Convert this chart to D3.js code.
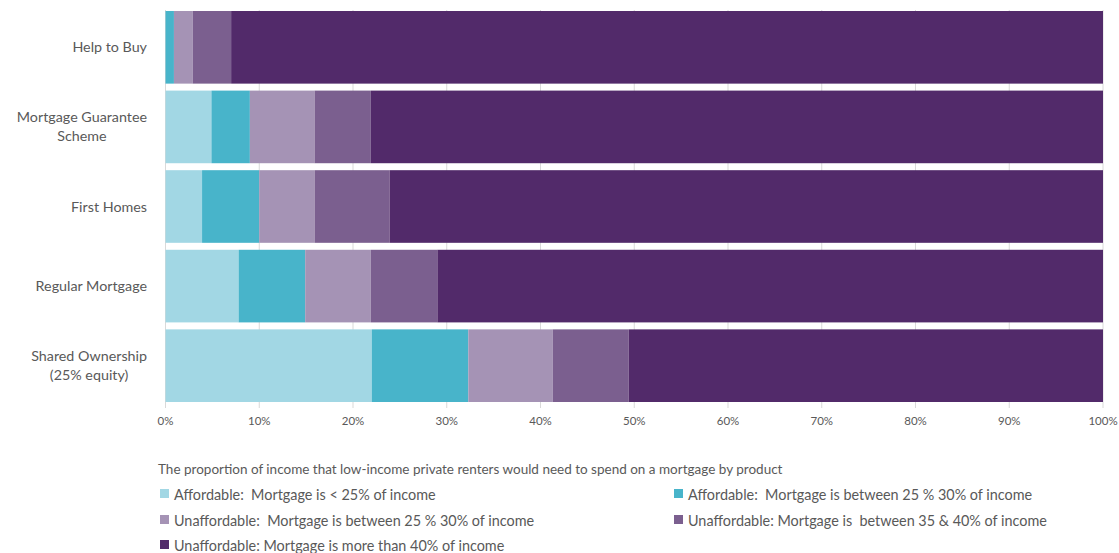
<!DOCTYPE html>
<html><head><meta charset="utf-8">
<script src="https://cdn.jsdelivr.net/npm/d3@7"></script>
<style>body{margin:0;background:#fff}svg{display:block}text{white-space:pre}</style>
</head><body><svg id="c" width="1119" height="553"></svg>
<script>
const categories = [["Help to Buy"],["Mortgage Guarantee","Scheme"],["First Homes"],["Regular Mortgage"],["Shared Ownership","(25% equity)"]];
const seriesNames = [
  "Affordable:  Mortgage is < 25% of income",
  "Affordable:  Mortgage is between 25 % 30% of income",
  "Unaffordable:  Mortgage is between 25 % 30% of income",
  "Unaffordable: Mortgage is  between 35 & 40% of income",
  "Unaffordable: Mortgage is more than 40% of income"
];
const affordableLow   = [0, 4.9, 3.9, 7.8, 22.0];
const affordableHigh  = [0.9, 4.1, 6.1, 7.1, 10.3];
const unaffordable25  = [2.0, 6.9, 5.9, 7.0, 9.0];
const unaffordable35  = [4.1, 6.0, 8.0, 7.1, 8.1];
const unaffordable40  = [93.0, 78.1, 76.1, 71.0, 50.6];
const tickValues = [0,10,20,30,40,50,60,70,80,90,100];
const title = "The proportion of income that low-income private renters would need to spend on a mortgage by product";
const colors = ["#A2D7E4","#48B4CA","#A593B5","#7B5F8F","#522A6A"];

const svg = d3.select("#c");
const font = "Lato, 'Open Sans', sans-serif";
const grey = "#595959";
const x = d3.scaleLinear().domain([0,100]).range([165.5,1103]);
const y = d3.scaleBand().domain(d3.range(categories.length)).range([11,402]).paddingInner(0.0875).paddingOuter(0);

// gridlines
svg.append("g").selectAll("line").data(tickValues).join("line")
  .attr("x1",d=>x(d)).attr("x2",d=>x(d)).attr("y1",10).attr("y2",408)
  .attr("stroke","#d9d9d9").attr("stroke-width",1);

const seriesVals = [affordableLow, affordableHigh, unaffordable25, unaffordable35, unaffordable40];
const rows = categories.map((c,i)=>{const o={i}; seriesVals.forEach((s,k)=>o["s"+k]=s[i]); return o;});
const stack = d3.stack().keys(d3.range(5).map(k=>"s"+k))(rows);
svg.append("g").selectAll("g").data(stack).join("g").attr("fill",(d,k)=>colors[k])
  .selectAll("rect").data(d=>d).join("rect")
  .attr("x",d=>x(d[0])).attr("width",d=>Math.max(0,x(d[1])-x(d[0])))
  .attr("y",d=>y(d.data.i)).attr("height",y.bandwidth());

// x axis labels
svg.append("g").selectAll("text").data(tickValues).join("text")
  .attr("x",d=>x(d)).attr("y",425).attr("text-anchor","middle")
  .attr("font-family",font).attr("font-size",11.5).attr("fill",grey)
  .text(d=>d+"%");

// category labels
const lab = svg.append("g");
categories.forEach((lines,i)=>{
  const g = lab.append("g");
  const cy = y(i)+y.bandwidth()/2;
  const lh = 19;
  const ts = lines.map((l,j)=>g.append("text").attr("font-family",font).attr("font-size",14.3).attr("fill",grey)
    .attr("text-anchor","middle").attr("y",cy + (j-(lines.length-1)/2)*lh + 5).text(l));
  const maxW = d3.max(ts, t=>t.node().getComputedTextLength());
  const right = 147;
  ts.forEach(t=>t.attr("x", right - maxW/2));
});

// title
svg.append("text").attr("x",158).attr("y",474).attr("font-family",font).attr("font-size",13.5).attr("fill",grey).text(title);

// legend
const legPos = [[160,494],[674,494],[160,520],[674,520],[160,545]];
const leg = svg.append("g").selectAll("g").data(seriesNames).join("g")
  .attr("transform",(d,k)=>`translate(${legPos[k][0]},${legPos[k][1]})`);
leg.append("rect").attr("x",0).attr("y",-5).attr("width",9).attr("height",9).attr("fill",(d,k)=>colors[k]);
leg.append("text").attr("x",14).attr("y",5.5).attr("font-family",font).attr("font-size",14.4).attr("fill",grey).text(d=>d);
</script></body></html>
